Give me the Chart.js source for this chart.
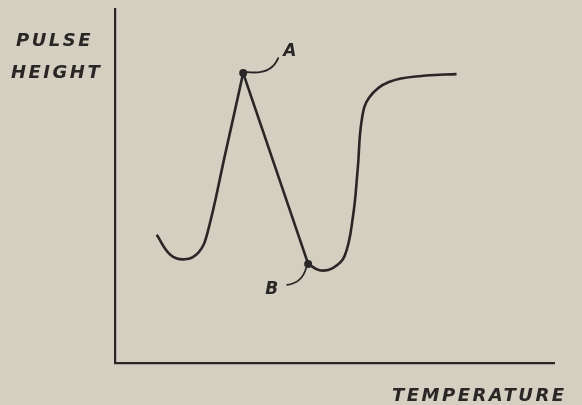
<!DOCTYPE html>
<html>
<head>
<meta charset="utf-8">
<script src="https://cdn.jsdelivr.net/npm/chart.js@4.4.1/dist/chart.umd.min.js"></script>
<style>
  html, body { margin: 0; padding: 0; background: #d3cfc1; }
  #wrap { width: 582px; height: 405px; }
</style>
</head>
<body>
<div id="wrap"><canvas id="chart" width="582" height="405"></canvas></div>
<script>
// pulse height vs temperature (arbitrary units, 0..100 on both axes)
const riseTemp = [9.5, 12.6, 15.9, 19.0, 21.0, 25.1, 29.2];
const risePulse = [36.2, 30.6, 29.3, 31.2, 36.5, 59.0, 81.9];
const recoverTemp = [44.0, 46.6, 49.6, 52.3, 54.2, 55.3, 56.2, 57.9, 62.4, 70.8, 77.8];
const recoverPulse = [28.0, 26.2, 26.8, 30.2, 41.3, 55.0, 68.6, 75.0, 79.4, 81.2, 81.6];
const markedLabels = ["A", "B"];
const markedTemp = [29.2, 44.0];
const markedPulse = [81.9, 28.0];

const INK = "#2a2626";
const LETTER = 'italic bold 18px "DejaVu Sans"';

const toXY = (xs, ys) => xs.map((x, i) => ({ x, y: ys[i] }));

// hand-lettered axis titles plus the A / B callouts
const sketchLabels = {
  id: "sketchLabels",
  afterDatasetsDraw(chart) {
    const { ctx, scales } = chart;
    const ax = scales.x.getPixelForValue(markedTemp[0]);
    const ay = scales.y.getPixelForValue(markedPulse[0]);
    const bx = scales.x.getPixelForValue(markedTemp[1]);
    const by = scales.y.getPixelForValue(markedPulse[1]);
    ctx.save();
    ctx.strokeStyle = INK;
    ctx.lineWidth = 1.8;
    ctx.lineCap = "round";
    // leader from A, curling up to the right
    ctx.beginPath();
    ctx.moveTo(ax + 4, ay - 1);
    ctx.quadraticCurveTo(ax + 28, ay + 2, ax + 35, ay - 15);
    ctx.stroke();
    // leader from B, curling down to the left
    ctx.beginPath();
    ctx.moveTo(bx - 2, by + 4);
    ctx.quadraticCurveTo(bx - 6, by + 19, bx - 21, by + 21);
    ctx.stroke();

    ctx.fillStyle = INK;
    ctx.font = LETTER;
    ctx.letterSpacing = "2.5px";
    ctx.textBaseline = "alphabetic";
    ctx.textAlign = "left";
    ctx.fillText("PULSE", 16, 46);
    ctx.fillText("HEIGHT", 11, 78);
    ctx.fillText("TEMPERATURE", 392, 401);
    ctx.letterSpacing = "0px";
    ctx.font = 'italic bold 17px "DejaVu Sans"';
    ctx.fillText(markedLabels[0], ax + 40, ay - 17);
    ctx.fillText(markedLabels[1], bx - 43, by + 30);
    ctx.restore();
  },
};

const hiddenAxis = (min, max) => ({
  type: "linear",
  min,
  max,
  ticks: { display: false },
  grid: { display: false, drawTicks: false },
  border: { display: true, color: INK, width: 2.2 },
  afterFit: (s) => { s.width = 0; s.height = 0; },
});

new Chart(document.getElementById("chart"), {
  type: "line",
  data: {
    datasets: [
      {
        data: toXY(riseTemp, risePulse),
        tension: 0.4,
      },
      {
        data: toXY(markedTemp, markedPulse),
        tension: 0,
        pointRadius: 4,
        pointBackgroundColor: INK,
        pointBorderWidth: 0,
      },
      {
        data: toXY(recoverTemp, recoverPulse),
        tension: 0.4,
      },
    ].map((d) => ({
      borderColor: INK,
      borderWidth: 2.6,
      pointRadius: 0,
      fill: false,
      ...d,
    })),
  },
  options: {
    responsive: false,
    animation: false,
    events: [],
    layout: { padding: { left: 115, right: 28, top: 9, bottom: 42 } },
    plugins: { legend: { display: false }, tooltip: { enabled: false } },
    scales: {
      x: hiddenAxis(0, 100),
      y: hiddenAxis(0, 100),
    },
  },
  plugins: [sketchLabels],
});
</script>
</body>
</html>
